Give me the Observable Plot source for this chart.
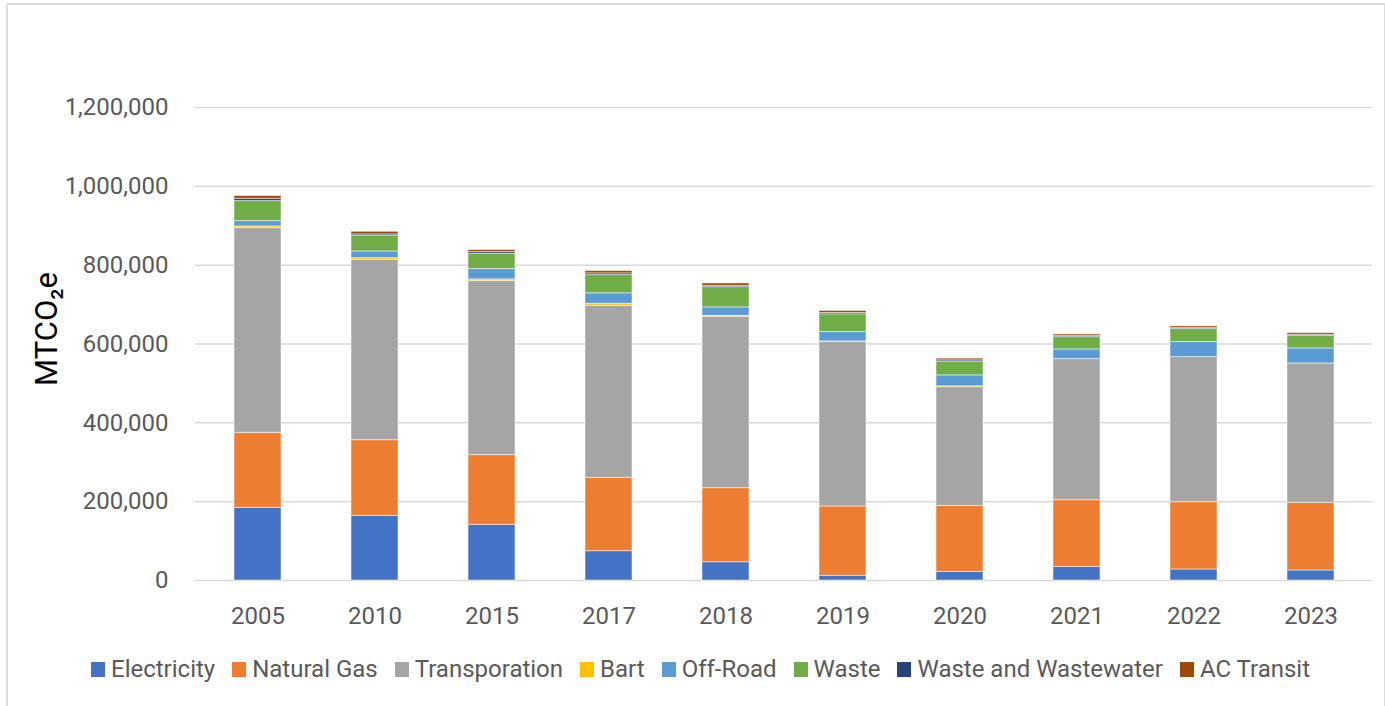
<!DOCTYPE html>
<html>
<head>
<meta charset="utf-8">
<script src="https://cdn.jsdelivr.net/npm/d3@7"></script>
<script src="https://cdn.jsdelivr.net/npm/@observablehq/plot@0.6"></script>
<style>
  html, body { margin: 0; padding: 0; background: #fff; }
  body { width: 1385px; height: 706px; position: relative; overflow: hidden; font-family: Roboto, "Open Sans", sans-serif; }
  #frame { position: absolute; left: 6px; top: 3px; width: 1376px; height: 760px; border: 2px solid #dcdcdc; pointer-events: none; }
  #chart { position: absolute; left: 0; top: 0; }
  #legend { position: absolute; left: 8px; top: 655px; width: 1385px; display: flex; justify-content: center; align-items: center; font-size: 24px; color: #595959; }
  #legend .item { display: flex; align-items: center; margin: 0 8.5px; }
  #legend .sw { width: 14px; height: 15px; margin-right: 6px; }
</style>
</head>
<body>
<div id="chart"></div>
<div id="legend"></div>
<div id="frame"></div>
<script>
// Emissions by sector, MTCO2e
const years = ["2005", "2010", "2015", "2017", "2018", "2019", "2020", "2021", "2022", "2023"];
const seriesNames = ["Electricity", "Natural Gas", "Transporation", "Bart", "Off-Road", "Waste", "Waste and Wastewater", "AC Transit"];
const seriesColors = ["#4472C4", "#ED7D31", "#A5A5A5", "#FFC000", "#5B9BD5", "#70AD47", "#264478", "#9E480E"];

const electricity    = [184300, 164000, 141100, 74400, 46400, 11700, 21800, 34500, 27900, 25400];
const naturalGas     = [190300, 192000, 177000, 186000, 187900, 176100, 167500, 169300, 170800, 171600];
const transportation = [519400, 457600, 441600, 436600, 434700, 417800, 301300, 357900, 368100, 353700];
const bart           = [4300, 4300, 4300, 5100, 2500, 1000, 2000, 0, 0, 0];
const offRoad        = [13500, 17000, 26100, 26400, 21300, 23900, 27900, 24600, 38100, 38100];
const waste          = [50800, 39600, 38800, 46400, 51500, 44900, 34800, 31200, 33000, 32000];
const wasteWater     = [5700, 3500, 4300, 4300, 3300, 3300, 3300, 3300, 2500, 2500];
const acTransit      = [7000, 6600, 5100, 5800, 6100, 5100, 4300, 3600, 4300, 4300];

const yTicks = [0, 200000, 400000, 600000, 800000, 1000000, 1200000];

// Long-format table for stacking
const seriesValues = [electricity, naturalGas, transportation, bart, offRoad, waste, wasteWater, acTransit];
const rows = [];
seriesNames.forEach((name, i) => {
  years.forEach((year, j) => rows.push({year, series: name, value: seriesValues[i][j]}));
});

const plot = Plot.plot({
  width: 1385,
  height: 630,
  marginLeft: 195,
  marginRight: 13,
  marginTop: 107,
  marginBottom: 50,
  style: {fontFamily: "Roboto, 'Open Sans', sans-serif", background: "transparent"},
  x: {domain: years, paddingInner: 0.6, paddingOuter: 0.3, label: null},
  y: {domain: [0, 1200000], label: null},
  color: {domain: seriesNames, range: seriesColors},
  marks: [
    Plot.ruleY(yTicks, {stroke: "#d9d9d9", strokeWidth: 1.5}),
    Plot.barY(rows, {
      x: "year", y: "value", fill: "series", order: seriesNames,
      stroke: "#ffffff", strokeOpacity: 0.5, strokeWidth: 1
    }),
    Plot.axisY({ticks: yTicks, tickFormat: d3.format(","), tickSize: 0, tickPadding: 27, fontSize: 24, color: "#595959", label: null}),
    Plot.axisX({tickSize: 0, tickPadding: 26, fontSize: 24, color: "#595959", label: null}),
    Plot.text(["MTCO₂e"], {frameAnchor: "left", textAnchor: "middle", dx: -148, dy: -15, rotate: -90, fontSize: 31, fill: "#000"})
  ]
});
document.getElementById("chart").appendChild(plot);

// Legend row beneath the chart
const legend = d3.select("#legend");
seriesNames.forEach((name, i) => {
  const item = legend.append("div").attr("class", "item");
  item.append("div").attr("class", "sw").style("background", seriesColors[i]);
  item.append("span").text(name);
});
</script>
</body>
</html>
